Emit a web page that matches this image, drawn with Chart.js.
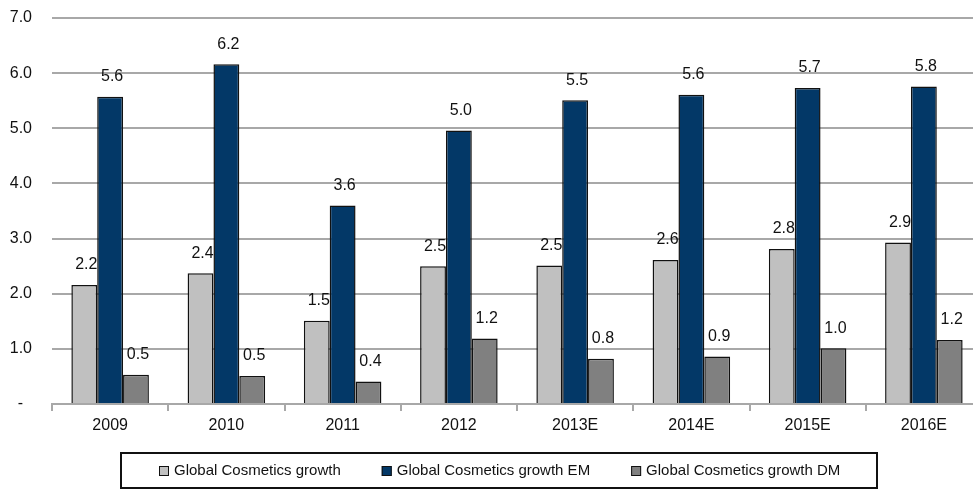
<!DOCTYPE html>
<html>
<head>
<meta charset="utf-8">
<title>Global Cosmetics growth</title>
<script src="https://cdn.jsdelivr.net/npm/chart.js@4.4.1/dist/chart.umd.min.js"></script>
<style>
    html, body { margin: 0; padding: 0; background: #fff; overflow: hidden; }
    #growthChart { display: block; }
</style>
</head>
<body>
<canvas id="growthChart" width="1000" height="489"></canvas>
<script>
const years = ['2009', '2010', '2011', '2012', '2013E', '2014E', '2015E', '2016E'];
const globalGrowth = [2.16, 2.37, 1.51, 2.50, 2.51, 2.61, 2.81, 2.93];
const emGrowth = [5.57, 6.16, 3.60, 4.96, 5.51, 5.61, 5.73, 5.76];
const dmGrowth = [0.53, 0.51, 0.41, 1.19, 0.82, 0.86, 1.01, 1.16];
const seriesNames = ['Global Cosmetics growth', 'Global Cosmetics growth EM', 'Global Cosmetics growth DM'];

const FAMILY = '"Liberation Sans", Arial, sans-serif';
const LABEL_FONT = '16px ' + FAMILY;
const LEGEND_FONT = '15px ' + FAMILY;
const TEXT_COLOR = '#111';
const GRID_COLOR = '#a8a8a8';

function fmt(v) {
    return (Math.round(v * 10) / 10).toFixed(1);
}

// value labels above every bar
const barLabels = {
    id: 'barLabels',
    afterDatasetsDraw(chart) {
        const ctx = chart.ctx;
        ctx.save();
        ctx.font = LABEL_FONT;
        ctx.fillStyle = TEXT_COLOR;
        ctx.textAlign = 'center';
        ctx.textBaseline = 'middle';
        chart.data.datasets.forEach((ds, i) => {
            chart.getDatasetMeta(i).data.forEach((bar, j) => {
                ctx.fillText(fmt(ds.data[j]), bar.x + 2, bar.y - 20);
            });
        });
        ctx.restore();
    }
};

// framed legend along the bottom
const boxedLegend = {
    id: 'boxedLegend',
    afterDraw(chart) {
        const ctx = chart.ctx;
        ctx.save();
        ctx.strokeStyle = TEXT_COLOR;
        ctx.lineWidth = 2;
        ctx.strokeRect(121, 453, 756, 35);

        ctx.font = LEGEND_FONT;
        ctx.textBaseline = 'middle';
        ctx.textAlign = 'left';
        let x = 159;
        const cy = 471;
        chart.data.datasets.forEach(ds => {
            ctx.fillStyle = ds.backgroundColor;
            ctx.fillRect(x, cy - 5, 10, 10);
            ctx.strokeStyle = TEXT_COLOR;
            ctx.lineWidth = 1;
            ctx.strokeRect(x + 0.5, cy - 4.5, 9, 9);
            ctx.fillStyle = TEXT_COLOR;
            ctx.fillText(ds.label, x + 15, cy);
            x += 15 + ctx.measureText(ds.label).width + 41;
        });
        ctx.restore();
    }
};

const ctx = document.getElementById('growthChart').getContext('2d');

const growthChart = new Chart(ctx, {
    type: 'bar',
    data: {
        labels: years,
        datasets: [
            {
                label: seriesNames[0],
                data: globalGrowth,
                backgroundColor: '#c0c0c0'
            },
            {
                label: seriesNames[1],
                data: emGrowth,
                backgroundColor: '#033867'
            },
            {
                label: seriesNames[2],
                data: dmGrowth,
                backgroundColor: '#808080'
            }
        ]
    },
    options: {
        responsive: false,
        animation: false,
        devicePixelRatio: 1,
        layout: {
            padding: { top: 18, right: 18, bottom: 50, left: 0 }
        },
        datasets: {
            bar: {
                borderColor: '#111',
                borderWidth: 1.5,
                categoryPercentage: 0.667,
                barPercentage: 1.0
            }
        },
        plugins: {
            legend: { display: false },
            tooltip: { enabled: false }
        },
        scales: {
            x: {
                grid: {
                    offset: true,
                    drawOnChartArea: false,
                    color: GRID_COLOR,
                    lineWidth: 2,
                    tickLength: 7
                },
                border: { color: GRID_COLOR, width: 2 },
                ticks: {
                    color: TEXT_COLOR,
                    font: { family: FAMILY, size: 16 },
                    padding: 5,
                    maxRotation: 0
                },
                afterFit(scale) {
                    scale.height = 35;
                }
            },
            y: {
                min: 0,
                max: 7,
                grid: {
                    color: GRID_COLOR,
                    lineWidth: 2,
                    drawTicks: false
                },
                border: { display: false },
                ticks: {
                    stepSize: 1,
                    padding: 20,
                    color: TEXT_COLOR,
                    font: { family: FAMILY, size: 16 },
                    callback: function(value) {
                        return value === 0 ? '-  ' : value.toFixed(1);
                    }
                },
                afterFit(scale) {
                    scale.width = 52;
                    scale.paddingTop = 0;
                    scale.paddingBottom = 0;
                }
            }
        }
    },
    plugins: [barLabels, boxedLegend]
});
</script>
</body>
</html>
